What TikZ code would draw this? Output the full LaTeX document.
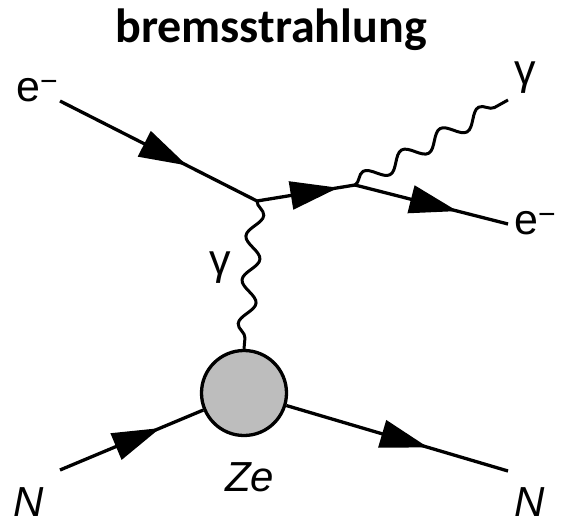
\documentclass[tikz,border=0pt]{standalone}
\usepackage{fontspec}
\setmainfont{Liberation Sans}
\newfontfamily\titlefont{Carlito}
\usetikzlibrary{decorations.pathmorphing,decorations.markings,arrows.meta}
\definecolor{blobgray}{RGB}{189,189,189}
\begin{document}
\begin{tikzpicture}[x=1pt,y=-1pt,
  fermion/.style={line width=3.3pt, postaction={decorate},
    decoration={markings, mark=at position #1 with {\arrow{Triangle[length=48pt,width=28pt]}}}},
  photon/.style={line width=3pt, decorate,
    decoration={snake, segment length=44pt, amplitude=8pt}},
  lbl/.style={inner sep=0pt, anchor=base west, font=\fontsize{43}{43}\selectfont},
  ilbl/.style={lbl, font=\fontsize{42}{42}\selectfont\itshape},
  blobstyle/.style={circle, draw, fill=blobgray, line width=3.3pt, minimum size=85pt, inner sep=0pt},
]
\useasboundingbox (0,0) rectangle (561,525);

% title
\node[inner sep=0pt, anchor=base, font=\titlefont\bfseries\fontsize{48}{48}\selectfont] (title) at (271,42) {bremsstrahlung};

% points
\coordinate (ein) at (60,101);
\coordinate (v1) at (257,201);
\coordinate (v2) at (355,185);
\coordinate (eout) at (508,224);
\coordinate (gend) at (508,100);
\coordinate (nin) at (60,470);
\coordinate (nout) at (508,471);
\node[blobstyle] (blob) at (244,393) {};

% lines
\draw[fermion=0.645] (ein) -- (v1);
\draw[fermion=0.83] (v1) -- (v2);
\draw[fermion=0.67] (v2) -- (eout);
\draw[photon] (v1) -- (blob.north);
\draw[photon] (v2) -- (gend);
\draw[fermion=0.70] (nin) -- (blob);
\draw[fermion=0.64] (blob) -- (nout);

% labels
\node[lbl] (eL) at (16,101) {e\textsuperscript{−}};
\node[lbl] (gR) at (514,84) {γ};
\node[lbl] (gL) at (209,274) {γ};
\node[lbl] (eR) at (514,234) {e\textsuperscript{−}};
\node[ilbl] (ze) at (225,491) {Ze};
\node[ilbl] (nL) at (13,516) {N};
\node[ilbl] (nR) at (514,516) {N};
\end{tikzpicture}
\end{document}
